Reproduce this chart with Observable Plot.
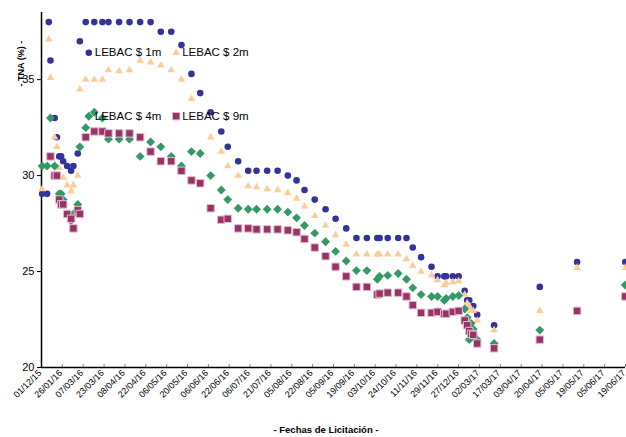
<!DOCTYPE html>
<html><head><meta charset="utf-8">
<script src="https://cdn.jsdelivr.net/npm/d3@7"></script>
<script src="https://cdn.jsdelivr.net/npm/@observablehq/plot@0.6"></script>
<style>
body{margin:0;background:#fff;}
#chart svg{font-family:"Liberation Sans",Arial,sans-serif;}
</style>
</head><body><div id="chart"></div>
<script>
// Tick labels of the category-style date axis (one per tick)
const xLabels = ["01/12/15","26/01/16","07/03/16","23/03/16","08/04/16","22/04/16","06/05/16","20/05/16","06/06/16","22/06/16","06/07/16","21/07/16","05/08/16","22/08/16","05/09/16","19/09/16","03/10/16","24/10/16","11/11/16","29/11/16","27/12/16","02/03/17","17/03/17","03/04/17","20/04/17","05/05/17","19/05/17","05/06/17","19/06/17"];

// Auction positions, measured in tick units along the x axis
const auctionPos = [0.03,0.27,0.35,0.43,0.63,0.74,0.85,0.94,1.04,1.23,1.42,1.53,1.74,1.84,2.12,2.53,2.92,3.21,3.72,4.22,4.73,5.23,5.72,6.22,6.71,7.19,7.61,8.11,8.62,8.93,9.43,9.91,10.31,10.82,11.32,11.81,12.23,12.61,13.10,13.62,14.10,14.61,15.10,15.60,16.10,16.21,16.60,17.10,17.50,17.80,18.20,18.70,18.99,19.31,19.40,19.72,20.00,20.29,20.41,20.51,20.60,20.70,20.89,21.70,23.89,25.68,27.99];

// TNA (%) per series, null = no auction for that term
const lebac1m = [29.05,29.05,38.0,36.0,33.0,32.0,31.0,31.0,30.75,30.5,30.25,30.5,31.15,37.0,38.0,38.0,38.0,38.0,38.0,38.0,38.0,38.0,37.5,37.5,36.8,35.3,34.3,33.3,32.3,31.5,30.75,30.25,30.25,30.25,30.25,30.0,29.75,29.25,28.75,28.25,27.75,27.25,26.75,26.75,26.75,26.75,26.75,26.75,26.75,26.25,25.75,25.25,24.75,24.75,24.75,24.75,24.75,24.0,23.5,23.5,null,23.2,22.75,22.2,24.2,25.5,25.5];
const lebac2m = [29.3,null,37.1,35.1,32.0,31.5,30.4,null,29.9,29.5,29.2,29.5,30.0,34.5,35.0,35.0,35.0,35.5,35.45,35.5,36.0,35.9,35.75,35.5,35.0,34.0,null,32.0,31.25,30.5,30.0,29.45,29.4,29.3,29.25,29.1,28.8,28.4,27.9,27.4,26.9,26.4,25.9,25.9,25.9,25.9,25.9,25.9,25.65,25.3,25.0,24.8,24.55,24.3,24.4,24.45,24.5,23.8,23.35,23.2,22.95,22.95,22.45,21.95,22.95,25.2,25.2];
const lebac4m = [30.5,30.5,null,33.0,30.5,null,29.05,29.05,28.75,28.0,27.65,28.0,28.5,31.5,32.5,33.3,33.0,31.9,31.9,31.9,31.0,31.75,31.5,31.0,30.5,31.25,31.15,30.0,29.25,28.75,28.3,28.25,28.25,28.25,28.25,28.1,27.8,27.4,27.0,26.55,26.05,25.55,25.05,25.05,24.6,24.75,24.8,24.9,24.6,24.15,23.8,23.7,23.7,23.5,23.6,23.7,23.75,23.05,22.6,21.45,22.3,22.0,21.45,21.25,21.95,22.95,24.3];
const lebac9m = [null,null,null,31.0,30.0,30.0,28.75,28.5,28.5,28.0,27.75,27.25,28.2,28.0,32.0,32.3,32.3,32.2,32.2,32.2,32.0,31.25,30.75,30.75,30.25,29.75,29.6,28.3,27.7,27.75,27.25,27.25,27.2,27.2,27.2,27.15,27.05,26.7,26.25,25.8,25.25,24.75,24.2,24.2,23.8,23.85,23.9,23.9,23.7,23.25,22.85,22.85,22.9,22.8,22.8,22.9,22.95,22.45,22.2,21.9,21.75,21.7,21.25,21.0,21.45,22.95,23.7];

const seriesNames = ["LEBAC $ 1m","LEBAC $ 2m","LEBAC $ 4m","LEBAC $ 9m"];
const seriesColors = ["#333399","#FFCC99","#339966","#993366"];
const yTicks = [20,25,30,35];
const yTitle = "- TNA (%) -";
const xTitle = "- Fechas de Licitación -";

const seriesValues = [lebac1m, lebac2m, lebac4m, lebac9m];
const symbols = ["circle","triangle","diamond2","square"];
const radii = [3.3, 2.8, 4.0, 4.2];
const strokes = ["none","none","none","#e2bcd0"];

const rows = [];
seriesValues.forEach((vals, s) => vals.forEach((v, i) => {
  if (v != null) rows.push({pos: auctionPos[i], tna: v, s});
}));

const marks = [];
// tick marks (inside) on x axis
marks.push(Plot.axisX({ticks: d3.range(xLabels.length), tickSize: 3, dy: -3, tickFormat: () => "", stroke: "#888", label: null}));
// x tick labels
marks.push(Plot.axisX({ticks: d3.range(xLabels.length), tickSize: 0, tickPadding: 4, tickRotate: -45, tickFormat: i => xLabels[i], fontSize: 9, dx: -1.5, label: null}));
marks.push(Plot.axisY({ticks: yTicks, tickSize: 4, tickPadding: 3, fontSize: 11, label: null}));
marks.push(Plot.ruleY([20], {stroke: "black", strokeWidth: 1.5}));
marks.push(Plot.ruleX([0], {stroke: "black", strokeWidth: 1.5}));

seriesValues.forEach((_, s) => {
  marks.push(Plot.dot(rows.filter(d => d.s === s), {
    x: "pos", y: "tna", symbol: () => symbols[s], r: radii[s],
    fill: seriesColors[s], stroke: strokes[s], strokeWidth: 1
  }));
});

// legend inside the plot area
const legendDx = [47.3, 134.7, 47.3, 134.7];
const legendDy = [40.3, 40.3, 103.7, 103.7];
seriesNames.forEach((name, s) => {
  marks.push(Plot.dot([name], {frameAnchor: "top-left", dx: legendDx[s], dy: legendDy[s],
    symbol: () => symbols[s], r: radii[s], fill: seriesColors[s], stroke: strokes[s], strokeWidth: 1}));
  marks.push(Plot.text([name], {frameAnchor: "top-left", dx: legendDx[s] + 6, dy: legendDy[s],
    textAnchor: "start", lineAnchor: "middle", fontSize: 11.5, fill: "black"}));
});

marks.push(Plot.text([yTitle], {frameAnchor: "top-left", dx: -24, dy: 74, rotate: -90, fontWeight: "bold", fontSize: 9, fill: "black"}));
marks.push(Plot.text([xTitle], {frameAnchor: "bottom", dx: -7.5, dy: 65, fontWeight: "bold", fontSize: 9.5, fill: "black"}));

const chart = Plot.plot({
  width: 626, height: 437,
  marginLeft: 41, marginRight: 1, marginTop: 12, marginBottom: 70,
  style: {fontFamily: '"Liberation Sans", Arial, sans-serif', background: "white", color: "black", overflow: "visible"},
  x: {type: "linear", domain: [0, xLabels.length - 1]},
  y: {type: "linear", domain: [20, 38.5]},
  marks
});
document.getElementById("chart").appendChild(chart);
</script>
</body></html>
